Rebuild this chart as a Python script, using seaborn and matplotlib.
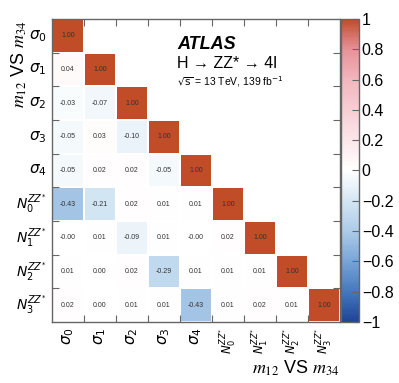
import numpy as np
import pandas as pd
import seaborn as sns
import matplotlib.pyplot as plt
from matplotlib.colors import LinearSegmentedColormap

labels = [r"$\sigma_0$", r"$\sigma_1$", r"$\sigma_2$", r"$\sigma_3$", r"$\sigma_4$",
          r"$N_0^{ZZ^{*}}$", r"$N_1^{ZZ^{*}}$", r"$N_2^{ZZ^{*}}$", r"$N_3^{ZZ^{*}}$"]

row_s0 = [1.00]
row_s1 = [0.04, 1.00]
row_s2 = [-0.03, -0.07, 1.00]
row_s3 = [-0.05, 0.03, -0.10, 1.00]
row_s4 = [-0.05, 0.02, 0.02, -0.05, 1.00]
row_n0 = [-0.43, -0.21, 0.02, 0.01, 0.01, 1.00]
row_n1 = [-0.0, 0.01, -0.09, 0.01, -0.0, 0.02, 1.00]
row_n2 = [0.01, 0.00, 0.02, -0.29, 0.01, 0.01, 0.01, 1.00]
row_n3 = [0.02, 0.00, 0.01, 0.01, -0.43, 0.01, 0.02, 0.01, 1.00]

cbar_ticks = [-1, -0.8, -0.6, -0.4, -0.2, 0, 0.2, 0.4, 0.6, 0.8, 1]
cbar_labels = ["\u22121", "\u22120.8", "\u22120.6", "\u22120.4", "\u22120.2", "0",
               "0.2", "0.4", "0.6", "0.8", "1"]

rows = [row_s0, row_s1, row_s2, row_s3, row_s4, row_n0, row_n1, row_n2, row_n3]
n = len(labels)
mat = np.full((n, n), np.nan)
for i, r in enumerate(rows):
    mat[i, :len(r)] = r
df = pd.DataFrame(mat, index=labels, columns=labels)
mask = np.isnan(mat)

# ROOT-like red/blue palette
stops = [(0.0, (30/255, 68/255, 150/255)),
         (0.1, (70/255, 120/255, 190/255)),
         (0.2, (120/255, 165/255, 215/255)),
         (0.3, (172/255, 203/255, 232/255)),
         (0.4, (212/255, 230/255, 243/255)),
         (0.5, (1.0, 1.0, 1.0)),
         (0.6, (252/255, 230/255, 234/255)),
         (0.7, (247/255, 206/255, 212/255)),
         (0.8, (242/255, 182/255, 190/255)),
         (0.9, (230/255, 146/255, 152/255)),
         (0.95, (212/255, 112/255, 100/255)),
         (1.0, (192/255, 76/255, 40/255))]
cmap = LinearSegmentedColormap.from_list("atlas", stops)

plt.rcParams["font.family"] = ["Liberation Sans", "DejaVu Sans"]
plt.rcParams["mathtext.fontset"] = "dejavusans"

fig = plt.figure(figsize=(3.99, 3.83), dpi=100)
ax = fig.add_axes([0.1303, 0.1593, 0.7218, 0.7911])
cax = fig.add_axes([0.8546, 0.1593, 0.0451, 0.7911])

sns.heatmap(df, mask=mask, cmap=cmap, vmin=-1, vmax=1, annot=True, fmt=".2f",
            annot_kws={"fontsize": 5, "color": "#333333"},
            ax=ax, cbar_ax=cax, linewidths=0.3, linecolor="#ffffff")

gray = "#666666"
# labels on minor ticks at cell centres, ticks on cell boundaries
ax.set_xticks(np.arange(1, n))
ax.set_yticks(np.arange(1, n))
ax.set_xticklabels([])
ax.set_yticklabels([])
ax.set_xticks(np.arange(n) + 0.5, minor=True)
ax.set_yticks(np.arange(n) + 0.5, minor=True)
ax.set_xticklabels(labels, minor=True)
ax.set_yticklabels(labels, minor=True)
for t in ax.get_xticklabels(minor=True):
    t.set(rotation=90, ha="center", va="top",
          fontsize=11 if "sigma" in t.get_text() else 8.5)
for t in ax.get_yticklabels(minor=True):
    t.set(rotation=0, ha="right", va="center",
          fontsize=11 if "sigma" in t.get_text() else 10)
ax.tick_params(which="minor", length=0, pad=4)
ax.tick_params(which="major", direction="in", length=5, color=gray,
               top=True, right=True, bottom=True, left=True)
for s in ax.spines.values():
    s.set_visible(True)
    s.set_color(gray)
    s.set_linewidth(1)

ax.set_xlabel(r"$m_{12}$ VS $m_{34}$", fontsize=13, math_fontfamily="stix",
              ha="right", va="center")
ax.set_ylabel(r"$m_{12}$ VS $m_{34}$", fontsize=13, math_fontfamily="stix",
              ha="right", va="center")
ax.xaxis.set_label_coords(1.0, -0.152)
ax.yaxis.set_label_coords(-0.115, 0.995)

cb = ax.collections[0].colorbar
cb.set_ticks(cbar_ticks)
cb.set_ticklabels(cbar_labels)
cb.ax.tick_params(direction="in", length=5, color=gray, labelsize=11.5, pad=2)
cb.outline.set_edgecolor(gray)
cb.outline.set_linewidth(1)

ax.text(0.435, 0.915, "ATLAS", transform=ax.transAxes, fontsize=13,
        fontweight="bold", fontstyle="italic", va="center")
ax.text(0.435, 0.852, "H \u2192 ZZ* \u2192 4l", transform=ax.transAxes,
        fontsize=11.5, va="center")
ax.text(0.435, 0.795, r"$\sqrt{\mathrm{s}}$ = 13 TeV, 139 fb$^{-1}$",
        transform=ax.transAxes, fontsize=7.5, va="center")

fig.savefig("out.png", dpi=100)
